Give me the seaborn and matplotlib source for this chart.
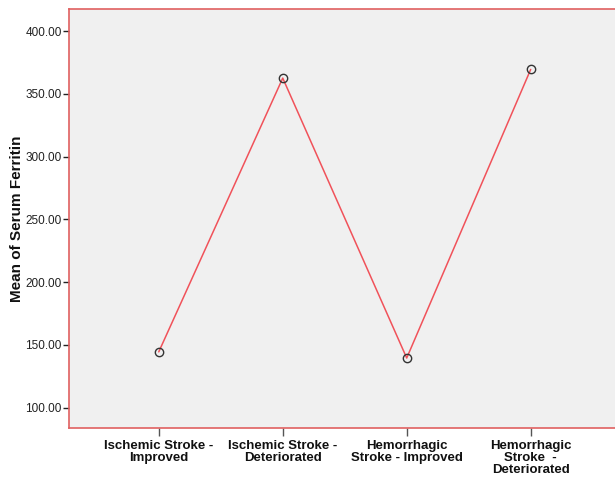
import seaborn as sns
import matplotlib.pyplot as plt
import pandas as pd

groups = ["Ischemic Stroke -\nImproved", "Ischemic Stroke -\nDeteriorated",
          "Hemorrhagic\nStroke - Improved", "Hemorrhagic\nStroke  -\nDeteriorated"]
ferritin = [144.5, 362.6, 139.6, 369.5]

df = pd.DataFrame({"group": groups, "ferritin": ferritin})

sns.set_style("white")
plt.rcParams['font.family'] = ['Liberation Sans', 'DejaVu Sans']

fig = plt.figure(figsize=(6.15, 4.83), dpi=100)
ax = fig.add_axes([0.113, 0.114, 0.887, 0.867])

sns.lineplot(data=df, x="group", y="ferritin", ax=ax, color="#F0525A", linewidth=1.1,
             marker="o", markersize=6, markerfacecolor="none",
             markeredgecolor="#333333", markeredgewidth=1.0, sort=False)

ax.set_facecolor("#F0F0F0")
ax.set_xlim(-0.72, 3.68)
ax.set_ylim(83.9, 417.5)
yt = [100, 150, 200, 250, 300, 350, 400]
ax.set_yticks(yt)
ax.set_yticklabels(["%.2f" % v for v in yt], fontsize=8.5, color="#222222")
ax.set_xticks(range(len(groups)))
ax.set_xticklabels(groups, fontsize=9.5, fontweight="bold", linespacing=1.0, color="#111111")
ax.tick_params(axis="y", left=True, direction="out", length=4.5, width=1, color="#222222", pad=1)
ax.tick_params(axis="x", bottom=True, direction="out", length=5.5, width=1, color="#555555", pad=3)
ax.set_xlabel("")
ax.set_ylabel("Mean of Serum Ferritin", fontsize=11, fontweight="bold", color="#111111")
ax.yaxis.set_label_coords(-0.084, 0.5)

for side in ["left", "top", "bottom"]:
    ax.spines[side].set_color("#E06060")
    ax.spines[side].set_linewidth(1.2)
ax.spines["right"].set_visible(False)

fig.savefig("out.png", dpi=100)
